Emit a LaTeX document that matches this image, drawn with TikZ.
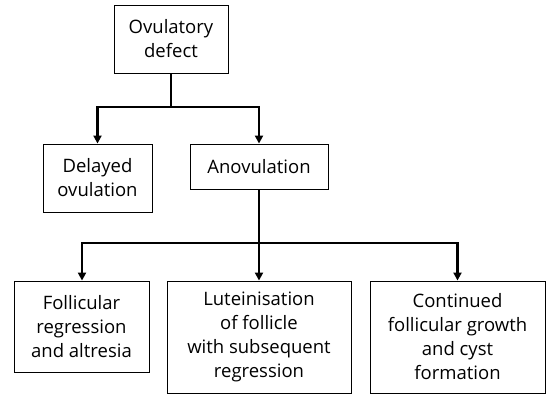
\documentclass[tikz,border=0pt]{standalone}
\usepackage{fontspec}
\setmainfont{Open Sans}
\usetikzlibrary{arrows.meta}

\begin{document}
\begin{tikzpicture}[
    x=1pt, y=-1pt,
    box/.style={draw=black, line width=0.9pt, fill=white, align=center,
        inner sep=0pt, font=\fontsize{18.5}{24}\selectfont},
    link/.style={line width=2.2pt, -},
    arrow/.style={line width=2.2pt, -{Triangle[length=8pt, width=8pt]}}
]
    \useasboundingbox (0,0) rectangle (551,395);
    \node[box, minimum width=114pt, minimum height=68pt] (defect) at (171,39) {Ovulatory\\defect};
    \node[box, minimum width=109pt, minimum height=68pt] (delayed) at (97.5,178) {Delayed\\ovulation};
    \node[box, minimum width=138pt, minimum height=45pt] (anov) at (259,166.5) {Anovulation};
    \node[box, minimum width=135pt, minimum height=91pt] (regress) at (81.5,326.5) {Follicular\\regression\\and altresia};
    \node[box, minimum width=184pt, minimum height=112pt] (lutein) at (259,337) {Luteinisation\\of follicle\\with subsequent\\regression};
    \node[box, minimum width=175pt, minimum height=112pt] (cyst) at (457.5,337) {Continued\\follicular growth\\and cyst\\formation};
    \coordinate (split) at (171,107);
    \coordinate (fork) at (259,243);
    \draw[link] (defect) -- (split);
    \draw[arrow] (split) -| (delayed);
    \draw[arrow] (split) -| (anov);
    \draw[link] (anov) -- (fork);
    \draw[arrow] (fork) -| (regress.north -| 82,0);
    \draw[arrow] (fork) -- (lutein);
    \draw[arrow] (fork) -| (cyst);
\end{tikzpicture}
\end{document}
